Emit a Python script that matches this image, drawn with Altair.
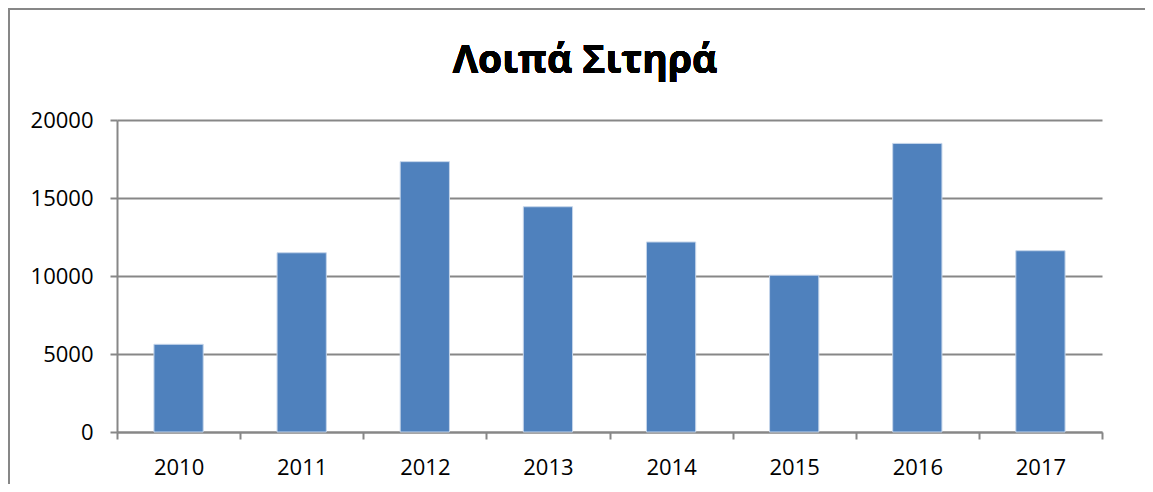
import altair as alt
import pandas as pd

years = ["2010", "2011", "2012", "2013", "2014", "2015", "2016", "2017"]
values = [5620, 11490, 17330, 14440, 12180, 10050, 18500, 11620]
title_text = "Λοιπά Σιτηρά"
y_ticks = [0, 5000, 10000, 15000, 20000]

df = pd.DataFrame({"year": years, "value": values})

FONT = "Open Sans"
GRAY = "#878787"

W, H = 985, 312
PAD_L, PAD_T, PAD_R, PAD_B = 109, 112, 43, 52

bars = alt.Chart(df).mark_bar(
    color="#4F81BD", stroke="#C5D5EA", strokeWidth=1,
    width=alt.RelativeBandSize(0.4)
).encode(
    x=alt.X("year:N", sort=years, title=None,
            scale=alt.Scale(paddingInner=0, paddingOuter=0),
            axis=alt.Axis(tickBand="extent", labelAngle=0, labelFont=FONT,
                          labelFontSize=22, labelColor="#000000", labelPadding=18,
                          tickSize=7, tickColor=GRAY, tickWidth=2,
                          domainColor=GRAY, domainWidth=2, grid=False)),
    y=alt.Y("value:Q", title=None,
            scale=alt.Scale(domain=[0, 20000], nice=False),
            axis=alt.Axis(values=y_ticks, format="d", labelFont=FONT,
                          labelFontSize=22, labelColor="#000000", labelPadding=17,
                          tickSize=7, tickColor=GRAY, tickWidth=2,
                          domainColor=GRAY, domainWidth=2,
                          grid=True, gridColor=GRAY, gridWidth=2)),
)

left_border = alt.Chart(df).mark_rule(color=GRAY, strokeWidth=2).encode(
    x=alt.value(-PAD_L + 1), y=alt.value(-PAD_T), y2=alt.value(H + PAD_B)
)
top_border = alt.Chart(df).mark_rule(color=GRAY, strokeWidth=2).encode(
    y=alt.value(-PAD_T + 1), x=alt.value(-PAD_L), x2=alt.value(W + PAD_R)
)

title = alt.Chart(df).mark_text(
    font=FONT, fontSize=39, fontWeight="bold", color="#000000",
    align="center", baseline="alphabetic"
).encode(
    x=alt.value(468), y=alt.value(-47), text=alt.value(title_text)
)

chart = alt.layer(left_border, top_border, bars, title).properties(
    width=W, height=H,
    autosize=alt.AutoSizeParams(type="none"),
    padding={"left": PAD_L, "top": PAD_T, "right": PAD_R, "bottom": PAD_B},
).configure_view(stroke=None)

chart.save("out.html", embed_options={"renderer": "svg", "actions": False})
